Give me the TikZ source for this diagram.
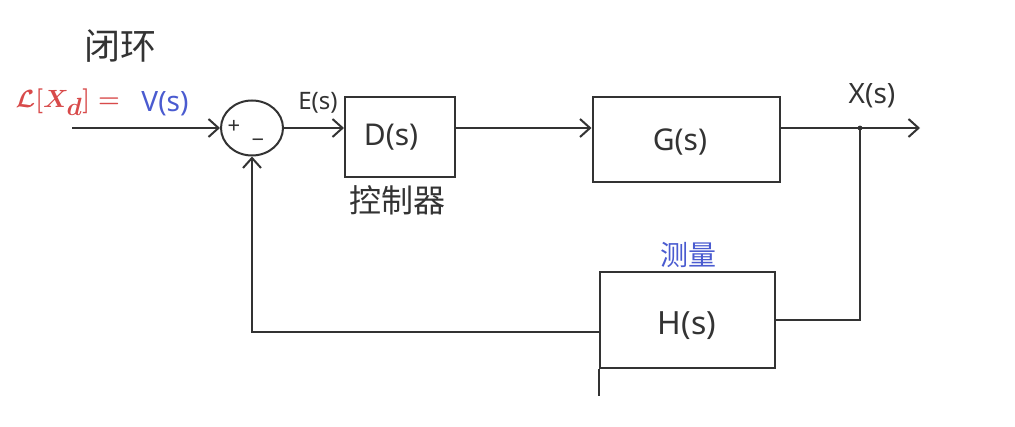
\documentclass[tikz,border=0pt]{standalone}
\usepackage{fontspec}
\setmainfont{Noto Sans}
\newfontfamily\cjk{Noto Sans CJK SC}
\usetikzlibrary{shapes.geometric,arrows.meta}
\definecolor{ink}{HTML}{333333}
\definecolor{redink}{HTML}{D84A4A}
\definecolor{blueink}{HTML}{4A5BD0}
\tikzset{
  blk/.style={draw=ink, line width=2pt, rectangle, inner sep=0pt},
  wire/.style={draw=ink, line width=2pt},
  arr/.style={wire, -{Straight Barb[length=10pt,width=18pt,line width=2pt]}},
  lbl/.style={text=ink, inner sep=0pt},
}
\begin{document}
\begin{tikzpicture}[x=1pt,y=-1pt]
\useasboundingbox[fill=white] (0,0) rectangle (1015,427);
% title
\node[lbl, font=\cjk\fontsize{36}{38}\selectfont] (title) at (120,46) {闭环};
% input label
\node[inner sep=0pt, text=redink, font=\fontsize{34}{36}\selectfont\boldmath, anchor=east] (lap) at (120,102) {$\mathcal{L}[X_d]=$};
\node[inner sep=0pt, text=blueink, font=\fontsize{28}{30}\selectfont] (vs) at (165,104) {V(s)};
% blocks
\node[draw=ink, line width=2pt, ellipse, minimum width=62pt, minimum height=55pt] (sum) at (252,128) {};
\node[lbl, font=\fontsize{22}{24}\selectfont] (plus) at (234,127) {+};
\node[lbl, font=\fontsize{22}{24}\selectfont] (minus) at (258,143) {\textminus};
\node[blk, minimum width=110pt, minimum height=80pt] (D) at (400,137) {};
\node[lbl, font=\fontsize{30}{32}\selectfont] (Dt) at (391,137) {D(s)};
\node[lbl, font=\cjk\fontsize{32}{34}\selectfont] (ctl) at (397,200) {控制器};
\node[blk, minimum width=187pt, minimum height=85pt] (G) at (686,140) {};
\node[lbl, font=\fontsize{30}{32}\selectfont] (Gt) at (680,142) {G(s)};
\node[blk, minimum width=175pt, minimum height=96pt] (H) at (687,320) {};
\node[lbl, font=\fontsize{32}{34}\selectfont] (Ht) at (687,326) {H(s)};
\node[inner sep=0pt, text=blueink, font=\cjk\fontsize{28}{30}\selectfont] (meas) at (688,255) {测量};
\node[lbl, font=\fontsize{24}{26}\selectfont] (Es) at (318,103) {E(s)};
\node[lbl, font=\fontsize{28}{30}\selectfont] (Xs) at (872,96) {X(s)};
% coordinates
\coordinate (in) at (72,128);
\coordinate (out) at (920,128);
\coordinate (br) at (860,128);
% connectors
\draw[arr] (in) -- (sum.west);
\draw[arr] (sum.east) -- (D.west |- sum.east);
\draw[arr] (D.east |- sum.east) -- (G.west |- sum.east);
\draw[arr] (G.east |- out) -- (out);
\draw[wire] (br) |- (H.east);
\fill[ink] (br) circle (2.4pt);
\draw[arr] ([yshift=-12pt]H.west) -| (sum.south);
\draw[wire] (H.south west) -- ++(0,27);
\end{tikzpicture}
\end{document}
